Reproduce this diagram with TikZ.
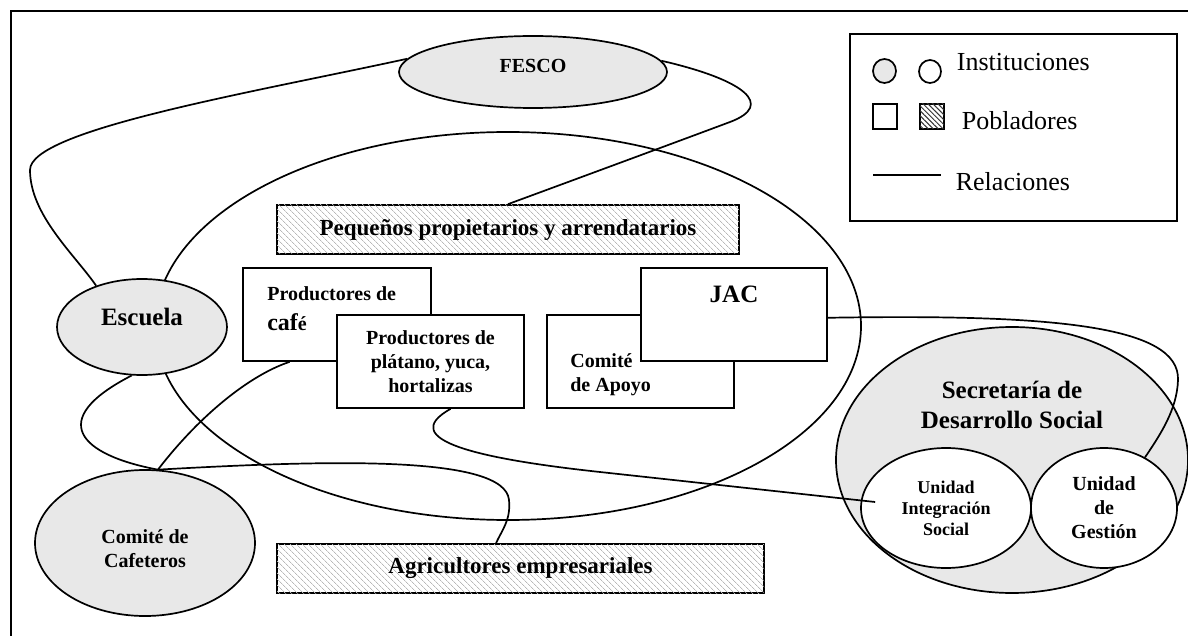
\documentclass[tikz,border=0pt]{standalone}
\usepackage{fontspec}
\setmainfont{Liberation Serif}
\usetikzlibrary{shapes.geometric,patterns.meta,calc}

\definecolor{instgray}{gray}{0.91}
\definecolor{hatchgray}{gray}{0.72}

\newcommand{\fmed}{\bfseries\fontsize{20}{24}\selectfont}
\newcommand{\fbig}{\bfseries\fontsize{25}{30}\selectfont}
\newcommand{\fhatch}{\bfseries\fontsize{23}{26}\selectfont}
\newcommand{\fsmall}{\bfseries\fontsize{18}{21}\selectfont}
\newcommand{\fleg}{\fontsize{26}{30}\selectfont}

\tikzset{
  inst/.style={ellipse, draw, fill=instgray, inner sep=0pt},
  instw/.style={ellipse, draw, fill=white, inner sep=0pt, align=center},
  pobl/.style={rectangle, draw, fill=white, inner sep=0pt},
  poblh/.style={rectangle, draw, fill=white, inner sep=0pt,
    postaction={pattern={Lines[angle=-45, distance=4pt, line width=0.7pt]}, pattern color=hatchgray}},
  leg/.style={anchor=west, inner sep=0pt, font=\fleg}
}

\begin{document}
\begin{tikzpicture}[x=1pt, y=-1pt, line width=1.7pt]
\useasboundingbox (0,0) rectangle (1188,636);
\clip (0,0) rectangle (1188,636);
\draw (11,660) -- (11,11) -- (1200,11);

% grupo de pobladores
\node[ellipse, draw, minimum width=706pt, minimum height=388pt, inner sep=0pt] (grupo) at (508,326) {};

% instituciones
\node[inst, minimum width=268pt, minimum height=72pt,
  label={[font=\fmed, yshift=6pt]center:FESCO}] (fesco) at (533,72) {};
\node[inst, minimum width=170pt, minimum height=96pt,
  label={[font=\fbig, yshift=10pt]center:Escuela}] (escuela) at (142,327) {};
\node[inst, minimum width=220pt, minimum height=146pt,
  label={[font=\fmed, align=center, yshift=-6pt]center:{Comité de\\Cafeteros}}] (cafeteros) at (145,543) {};

% pobladores
\node[poblh, minimum width=462pt, minimum height=49pt, font=\fhatch] (pequenos) at (508,229.5) {Pequeños propietarios y arrendatarios};
\node[poblh, minimum width=487pt, minimum height=49pt, font=\fhatch] (agri) at (520.5,568.5) {Agricultores empresariales};
\node[pobl, minimum width=188pt, minimum height=93pt,
  label={[anchor=north west, xshift=21pt, yshift=-15pt, align=left, font=\fmed]north west:{Productores de\\[6pt]{\fontsize{24}{26}\selectfont caf}é}}] (cafe) at (337,314.5) {};
\node[pobl, minimum width=187pt, minimum height=93pt, align=center, font=\fmed] (platano) at (430.5,361.5) {Productores de\\plátano, yuca,\\hortalizas};
\node[pobl, minimum width=187pt, minimum height=93pt,
  label={[anchor=west, xshift=20pt, yshift=-13pt, align=left, font=\fmed]west:{Comité\\de Apoyo}}] (apoyo) at (640.5,361.5) {};
\node[pobl, minimum width=186pt, minimum height=93pt,
  label={[font=\fbig, yshift=20pt]center:JAC}] (jac) at (734,314.5) {};

% secretaria
\node[inst, minimum width=352pt, minimum height=266pt,
  label={[font=\fbig, align=center, yshift=55pt]center:{Secretaría de\\Desarrollo Social}}] (secretaria) at (1012,460) {};
\node[instw, minimum width=170pt, minimum height=120pt, font=\fsmall] (uis) at (946,508) {Unidad\\Integración\\Social};
\node[instw, minimum width=146pt, minimum height=120pt, font=\fmed] (ges) at (1104,508) {Unidad\\de\\Gestión};

% leyenda
\node[draw, minimum width=327pt, minimum height=187pt, inner sep=0pt] (leyenda) at (1013.5,127.5) {};
\node[inst, minimum width=23pt, minimum height=24pt] (lginst) at (884.5,71) {};
\node[instw, minimum width=22pt, minimum height=23pt] (lginstw) at (930,71.5) {};
\node[leg] (lgtinst) at (956,62) {Instituciones};
\node[pobl, minimum width=24pt, minimum height=25pt] (lgpobl) at (885,116.5) {};
\node[pobl, minimum width=24pt, minimum height=25pt,
  postaction={pattern={Lines[angle=-45, distance=3.5pt, line width=1pt]}, pattern color=black!80}] (lgpoblh) at (932,116.5) {};
\node[leg] (lgtpobl) at (961,121) {Pobladores};
\coordinate (lgrel1) at (873,175);
\coordinate (lgrel2) at (941,175);
\draw (lgrel1) -- (lgrel2);
\node[leg] (lgtrel) at (955,182) {Relaciones};

% relaciones
\draw (fesco.174) .. controls (250,93) and (30,130) .. (30,170)
  .. controls (30,215) and (75,255) .. (escuela.138);
\draw (fesco.5) .. controls (745,80) and (775,105) .. (730,122)
  .. controls (663,147) and (560,185) .. (pequenos.north);
\draw (escuela.258) .. controls (45,420) and (80,455) .. (cafeteros.80);
\draw (cafe.225) .. controls (250,375) and (200,415) .. (cafeteros.80);
\draw (cafeteros.80) .. controls (330,460) and (505,455) .. (509,500)
  .. controls (511,520) and (502,530) .. (agri.134);
\draw (platano.293) .. controls (395,440) and (480,459) .. (600,472)
  -- ($(uis.west)+(15,-6)$);
\draw (jac.358) .. controls (1050,314) and (1180,325) .. (1178,380)
  .. controls (1177,410) and (1160,435) .. (ges.51);
\end{tikzpicture}
\end{document}
